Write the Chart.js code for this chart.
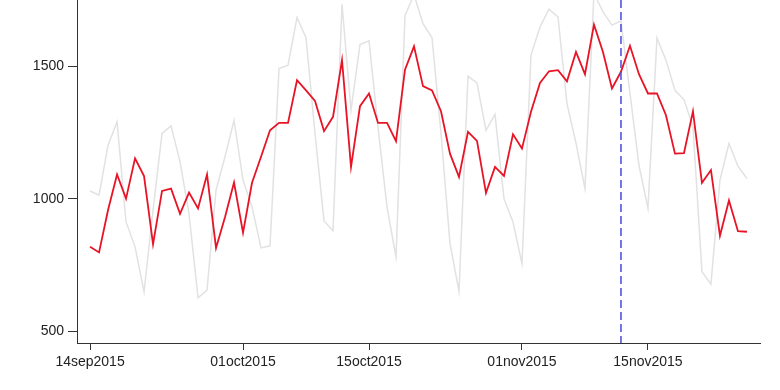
<!DOCTYPE html>
<html><head><meta charset="utf-8">
<script src="https://cdn.jsdelivr.net/npm/chart.js@4"></script>
<style>html,body{margin:0;padding:0;background:#fff}</style>
</head><body>
<canvas id="c" width="780" height="390" style="width:780px;height:390px;display:block"></canvas>
<script>
// days since 14sep2015
const redValues = [818,797,957,1091,1000,1152,1085,828,1029,1038,943,1023,963,1091,814,931,1061,872,1060,1158,1258,1286,1286,1447,1409,1369,1255,1309,1523,1120,1349,1397,1286,1286,1217,1487,1575,1425,1409,1330,1170,1082,1252,1218,1022,1120,1086,1243,1189,1328,1437,1481,1485,1443,1554,1470,1657,1554,1416,1479,1577,1470,1397,1397,1315,1170,1172,1330,1060,1108,860,993,877,875];
const grayValues = [1029,1013,1202,1290,912,818,648,957,1246,1275,1139,943,626,655,1032,1158,1296,1070,969,814,822,1491,1504,1684,1608,1246,916,879,1734,1334,1582,1596,1271,969,780,1692,1770,1661,1608,1246,831,650,1462,1437,1258,1318,1000,912,755,1542,1648,1715,1686,1359,1210,1038,1775,1705,1655,1671,1398,1126,963,1607,1523,1409,1374,1271,724,677,1070,1208,1123,1076];
const tickDays = [0,17,31,48,62];
const tickLabels = ['14sep2015','01oct2015','15oct2015','01nov2015','15nov2015'];
const yTicks = [500,1000,1500];
const markerDay = 59;

const toPts = arr => arr.map((v,i)=>({x:i,y:v}));

const markerPlugin = {
  id:'marker',
  afterDatasetsDraw(chart){
    const {ctx, chartArea, scales} = chart;
    const x = scales.x.getPixelForValue(markerDay);
    ctx.save();
    ctx.strokeStyle = 'rgb(85,85,225)';
    ctx.lineWidth = 1.6;
    ctx.setLineDash([8,4]);
    ctx.beginPath();
    ctx.moveTo(x, chartArea.top);
    ctx.lineTo(x, chartArea.bottom);
    ctx.stroke();
    ctx.restore();
  }
};

new Chart(document.getElementById('c'), {
  type:'line',
  data:{datasets:[
    {data:toPts(redValues), borderColor:'rgb(232,20,38)', borderWidth:1.8, pointRadius:0, tension:0},
    {data:toPts(grayValues), borderColor:'rgb(226,226,226)', borderWidth:1.5, pointRadius:0, tension:0}
  ]},
  options:{
    responsive:false, animation:false,
    layout:{padding:{top:0,right:20,left:0,bottom:0}},
    plugins:{legend:{display:false}, tooltip:{enabled:false}},
    scales:{
      x:{type:'linear', min:-1.45, max:74.45,
        afterBuildTicks(s){ s.ticks = tickDays.map(v=>({value:v})); },
        afterFit(s){ s.height = 47; s.paddingLeft = 0; s.paddingRight = 0; },
        ticks:{autoSkip:false, maxRotation:0, padding:4, color:'#222',
          font:{family:'"Liberation Sans", Arial, sans-serif', size:14},
          callback(v){ const i = tickDays.indexOf(v); return i>=0 ? tickLabels[i] : ''; }},
        grid:{drawOnChartArea:false, drawTicks:true, tickLength:7, color:'#333', lineWidth:1},
        border:{display:true, color:'#333', width:1}
      },
      y:{min:455, max:1750,
        afterBuildTicks(s){ s.ticks = yTicks.map(v=>({value:v})); },
        afterFit(s){ s.width = 77; s.paddingTop = 0; s.paddingBottom = 0; },
        ticks:{padding:4, color:'#222',
          font:{family:'"Liberation Sans", Arial, sans-serif', size:14},
          callback(v){ return String(v); }},
        grid:{drawOnChartArea:false, drawTicks:true, tickLength:9, color:'#333', lineWidth:1},
        border:{display:true, color:'#333', width:1}
      }
    }
  },
  plugins:[markerPlugin]
});
</script>
</body></html>
